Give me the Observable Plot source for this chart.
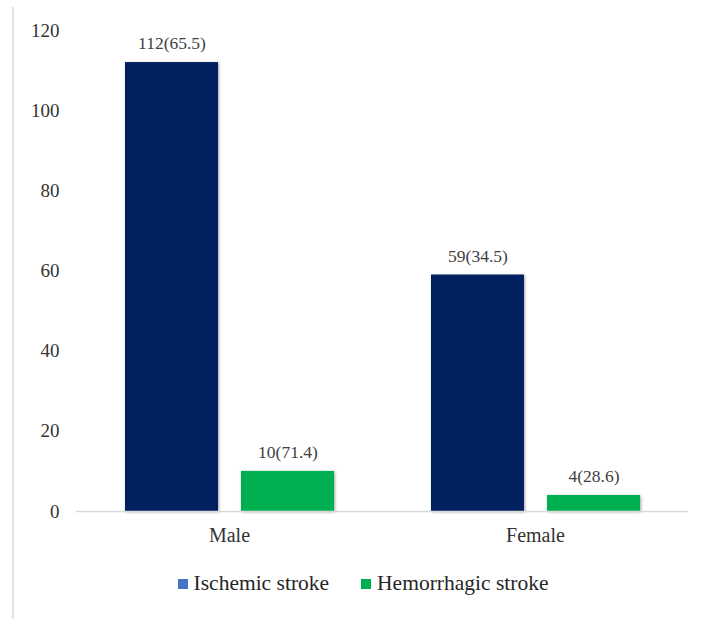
<!DOCTYPE html>
<html>
<head>
<meta charset="utf-8">
<script src="https://cdn.jsdelivr.net/npm/d3@7"></script>
<script src="https://cdn.jsdelivr.net/npm/@observablehq/plot@0.6"></script>
<style>
  html, body { margin: 0; padding: 0; background: #fff; }
  #wrap { position: relative; width: 701px; height: 619px; overflow: hidden; font-family: "Liberation Serif", "Times New Roman", serif; }
  #frame { position: absolute; left: 12px; top: 7px; width: 2px; height: 640px; background: #e3e3e3; }
  #chart { position: absolute; left: 0; top: 0; }
  #legend { position: absolute; top: 571px; left: 0; width: 701px; display: flex; justify-content: center; align-items: center; font-size: 21.5px; color: #262626; padding-left: 25px; box-sizing: border-box; }
  .item { display: flex; align-items: center; margin: 0 16px; }
  .sw { width: 10px; height: 10px; margin-right: 6px; }
  g[aria-label="bar"] rect { filter: drop-shadow(1px 1px 1.5px rgba(0,0,0,0.35)); }
</style>
</head>
<body>
<div id="wrap">
  <div id="frame"></div>
  <div id="chart"></div>
  <div id="legend"></div>
</div>
<script>
const groups = ["Male", "Female"];
const series = ["Ischemic stroke", "Hemorrhagic stroke"];
const ischemic = [112, 59];
const hemorrhagic = [10, 4];
const ischemicPct = [65.5, 34.5];
const hemorrhagicPct = [71.4, 28.6];
const yTicks = [0, 20, 40, 60, 80, 100, 120];
const barColors = ["#002060", "#00b050"];
const legendColors = ["#4472c4", "#00b050"];

const data = [];
groups.forEach((g, i) => {
  data.push({group: g, series: series[0], value: ischemic[i], label: `${ischemic[i]}(${ischemicPct[i]})`});
  data.push({group: g, series: series[1], value: hemorrhagic[i], label: `${hemorrhagic[i]}(${hemorrhagicPct[i]})`});
});

const chart = Plot.plot({
  width: 701,
  height: 560,
  marginLeft: 76,
  marginRight: 13,
  marginTop: 30,
  marginBottom: 49,
  style: {fontFamily: "Liberation Serif, Times New Roman, serif", fontSize: "19px", color: "#333", background: "transparent"},
  fx: {domain: groups, padding: 0, label: null},
  x: {domain: series, paddingInner: 0.2, paddingOuter: 0.41, axis: null},
  y: {domain: [0, 120], label: null},
  color: {domain: series, range: barColors},
  marks: [
    Plot.axisY({ticks: yTicks, tickSize: 0, tickPadding: 17, label: null, fontSize: 19}),
    Plot.axisFx({anchor: "bottom", tickSize: 0, tickPadding: 16, label: null, fontSize: 20}),
    Plot.barY(data, {fx: "group", x: "series", y: "value", fill: "series"}),
    Plot.ruleY([0], {stroke: "#d9d9d9", strokeWidth: 1.5}),
    Plot.text(data, {fx: "group", x: "series", y: "value", text: "label", dy: -19, fontSize: 17.5, fill: "#404040"})
  ]
});
document.getElementById("chart").appendChild(chart);

const legend = document.getElementById("legend");
series.forEach((s, i) => {
  const item = document.createElement("div");
  item.className = "item";
  const sw = document.createElement("div");
  sw.className = "sw";
  sw.style.background = legendColors[i];
  const t = document.createElement("span");
  t.textContent = s;
  item.appendChild(sw);
  item.appendChild(t);
  legend.appendChild(item);
});
</script>
</body>
</html>
